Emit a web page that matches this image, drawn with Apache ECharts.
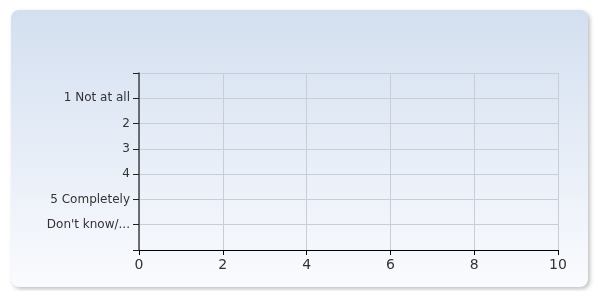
<!DOCTYPE html>
<html>
<head>
<meta charset="utf-8">
<script src="https://cdn.jsdelivr.net/npm/echarts@6/dist/echarts.min.js"></script>
<style>
  html, body { margin: 0; padding: 0; background: #fff; }
  #main { width: 594px; height: 291px; }
</style>
</head>
<body>
<div id="main"></div>
<script>
var categories = ['1 Not at all', '2', '3', '4', '5 Completely', "Don't know/..."]
var values = [0, 0, 0, 0, 0, 0]
var xTicks = [0, 2, 4, 6, 8, 10]

function main() {
  var myChart = echarts.init(document.getElementById('main'))
  // empty slot above and below so labels sit on the tick lines
  var axisData = [''].concat(categories).concat([''])
  var seriesData = [null].concat(values).concat([null])
  var option = {
    animation: false,
    textStyle: { fontFamily: 'DejaVu Sans' },
    graphic: [{
      type: 'rect',
      z: -10,
      shape: { x: 11, y: 10, width: 577, height: 277, r: 8 },
      style: {
        fill: new echarts.graphic.LinearGradient(0, 0, 0, 1, [
          { offset: 0, color: '#d3dff0' },
          { offset: 1, color: '#fafbfe' }
        ]),
        shadowBlur: 4,
        shadowOffsetX: 2,
        shadowOffsetY: 2,
        shadowColor: 'rgba(0,0,0,0.25)'
      }
    }],
    grid: { left: 139, top: 73, right: 36, bottom: 41 },
    xAxis: {
      type: 'value',
      min: xTicks[0],
      max: xTicks[xTicks.length - 1],
      interval: 2,
      axisLine: { show: true, lineStyle: { color: '#000', width: 1 } },
      axisTick: { show: true, length: 5, lineStyle: { color: '#000' } },
      axisLabel: { color: '#333', fontSize: 14, margin: 8 },
      splitLine: { show: true, lineStyle: { color: '#c8cdd6', width: 1 } }
    },
    yAxis: {
      type: 'category',
      inverse: true,
      boundaryGap: false,
      data: axisData,
      axisLine: { show: true, lineStyle: { color: '#444', width: 1.5 } },
      axisTick: { show: true, length: 6, alignWithLabel: true, lineStyle: { color: '#222' } },
      axisLabel: { color: '#333', fontSize: 12, margin: 9, interval: 0 },
      splitLine: { show: true, lineStyle: { color: '#c8cdd6', width: 1 } }
    },
    series: [{
      type: 'bar',
      data: seriesData,
      itemStyle: { color: '#4f81bd' }
    }]
  }
  myChart.setOption(option)
}

window.onload = main
</script>
</body>
</html>
